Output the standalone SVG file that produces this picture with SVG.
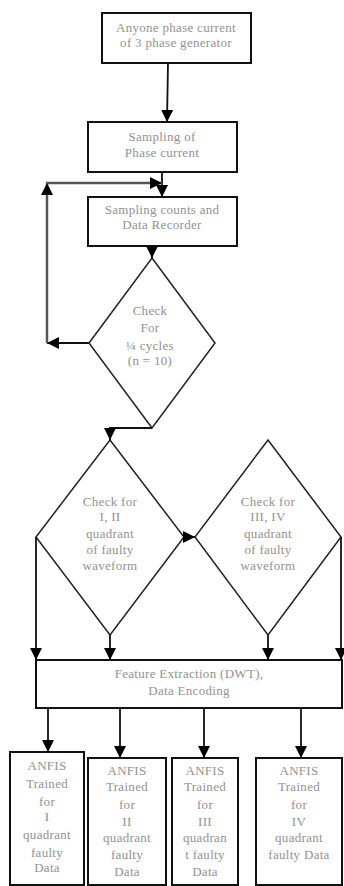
<svg xmlns="http://www.w3.org/2000/svg" width="344" height="886" viewBox="0 0 344 886">
<defs>
<marker id="ah" viewBox="0 0 12 12" refX="12" refY="6" markerWidth="12" markerHeight="12" markerUnits="userSpaceOnUse" orient="auto">
<path d="M0,0 L12,6 L0,12 z" fill="#000"/>
</marker>
</defs>
<style>
.box{fill:#fff;stroke:#111;stroke-width:2}
.dia{fill:none;stroke:#222;stroke-width:1.5}
.t{font-family:"Liberation Serif","Times New Roman",serif;font-size:13px;letter-spacing:0.3px;fill:#929292;text-anchor:middle}
.c{fill:none;stroke:#111;stroke-width:1.8;marker-end:url(#ah)}
.fb{fill:none;stroke:#555;stroke-width:2.5;marker-end:url(#ah)}
</style>
<rect width="344" height="886" fill="#fff"/>
<g id="n1"><rect class="box" x="102" y="13" width="149" height="50"/>
<text class="t" x="176" y="32">Anyone phase current</text>
<text class="t" x="176" y="47">of 3 phase generator</text></g>
<g id="n2"><rect class="box" x="88" y="122" width="149" height="50"/>
<text class="t" x="162" y="141">Sampling of</text>
<text class="t" x="162" y="157">Phase current</text></g>
<g id="n3"><rect class="box" x="88" y="197" width="149" height="49"/>
<text class="t" x="162" y="214">Sampling counts and</text>
<text class="t" x="162" y="229">Data Recorder</text></g>
<g id="n4"><polygon class="dia" points="152,258 215,343 152,428 89,343"/>
<text class="t" x="150" y="315">Check</text>
<text class="t" x="150" y="332">For</text>
<text class="t" x="150" y="350">¼ cycles</text>
<text class="t" x="150" y="365">(n = 10)</text></g>
<g id="n5"><polygon class="dia" points="110,440 184,537 110,635 36,537"/>
<text class="t" x="110" y="506">Check for</text>
<text class="t" x="110" y="521">I, II</text>
<text class="t" x="110" y="538">quadrant</text>
<text class="t" x="110" y="554">of faulty</text>
<text class="t" x="110" y="570">waveform</text></g>
<g id="n6"><polygon class="dia" points="268,440 341,537 268,635 195,537"/>
<text class="t" x="268" y="506">Check for</text>
<text class="t" x="268" y="521">III, IV</text>
<text class="t" x="268" y="538">quadrant</text>
<text class="t" x="268" y="554">of faulty</text>
<text class="t" x="268" y="570">waveform</text></g>
<g id="n7"><rect class="box" x="36" y="660" width="306" height="48"/>
<text class="t" x="189" y="678">Feature Extraction (DWT),</text>
<text class="t" x="189" y="695">Data Encoding</text></g>
<g id="n8"><rect class="box" x="10" y="752" width="74" height="133"/>
<text class="t" x="47" y="770">ANFIS</text>
<text class="t" x="47" y="788">Trained</text>
<text class="t" x="47" y="806">for</text>
<text class="t" x="47" y="821">I</text>
<text class="t" x="47" y="839">quadrant</text>
<text class="t" x="47" y="857">faulty</text>
<text class="t" x="47" y="872">Data</text></g>
<g id="n9"><rect class="box" x="88" y="758" width="78" height="127"/>
<text class="t" x="127" y="775">ANFIS</text>
<text class="t" x="127" y="791">Trained</text>
<text class="t" x="127" y="809">for</text>
<text class="t" x="127" y="826">II</text>
<text class="t" x="127" y="842">quadrant</text>
<text class="t" x="127" y="859">faulty</text>
<text class="t" x="127" y="876">Data</text></g>
<g id="n10"><rect class="box" x="172" y="758" width="66" height="127"/>
<text class="t" x="205" y="775">ANFIS</text>
<text class="t" x="205" y="791">Trained</text>
<text class="t" x="205" y="809">for</text>
<text class="t" x="205" y="826">III</text>
<text class="t" x="205" y="842">quadran</text>
<text class="t" x="205" y="859">t faulty</text>
<text class="t" x="205" y="876">Data</text></g>
<g id="n11"><rect class="box" x="256" y="758" width="86" height="127"/>
<text class="t" x="299" y="775">ANFIS</text>
<text class="t" x="299" y="791">Trained</text>
<text class="t" x="299" y="809">for</text>
<text class="t" x="299" y="826">IV</text>
<text class="t" x="299" y="842">quadrant</text>
<text class="t" x="299" y="859">faulty Data</text></g>
<g id="connectors">
<path class="c" d="M168,63 L167,122"/>
<path class="c" d="M162,172 V197"/>
<path class="c" d="M89,343 H47"/>
<path class="fb" d="M47,343 V183"/>
<path class="fb" d="M46,183 H162"/>
<path class="c" d="M152,246 V258"/>
<path class="c" d="M152,428 H110 V440"/>
<path class="c" d="M184,537 H195"/>
<path class="c" d="M36,537 V660"/>
<path class="c" d="M110,635 V660"/>
<path class="c" d="M268,635 V660"/>
<path class="c" d="M341,537 V660"/>
<path class="c" d="M48,708 V752"/>
<path class="c" d="M120,708 V758"/>
<path class="c" d="M204,708 V758"/>
<path class="c" d="M301,708 V758"/>
</g>
</svg>
